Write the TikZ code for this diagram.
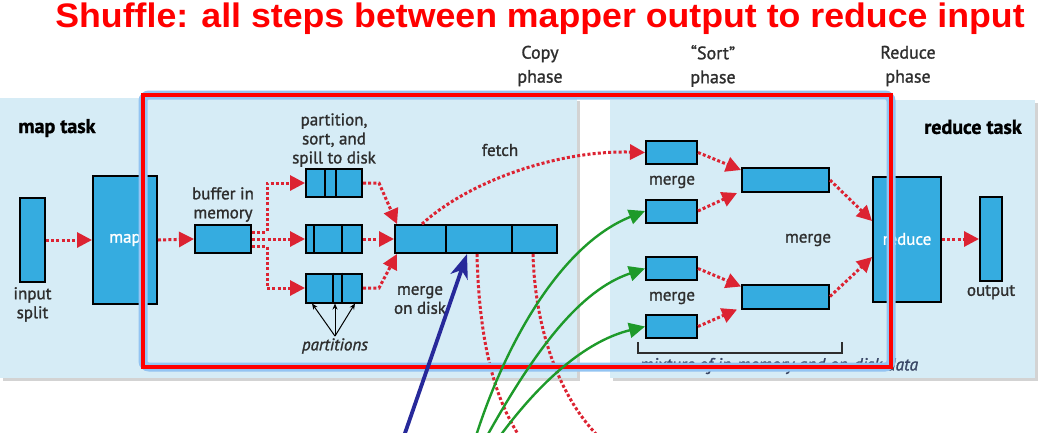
\documentclass[tikz,border=0pt]{standalone}
\usepackage{fontspec}
\setmainfont{PT Sans}[FakeBold=1.3]
\newfontfamily\headfont{Liberation Sans}
\usetikzlibrary{arrows.meta,positioning,shadows}
\definecolor{panelblue}{HTML}{D6ECF6}
\definecolor{boxblue}{HTML}{35ACE0}
\definecolor{dotred}{HTML}{DC2332}
\definecolor{frameblue}{HTML}{93C4F2}
\definecolor{arrgreen}{HTML}{1E9A2A}
\definecolor{arrnavy}{HTML}{27299A}
\definecolor{txtgray}{HTML}{2E2E2E}
\definecolor{mixgray}{HTML}{3A4766}

\begin{document}
\begin{tikzpicture}[x=1pt,y=-1pt,
  panel/.style={fill=panelblue,drop shadow={opacity=0.35,shadow xshift=3pt,shadow yshift=-3pt}},
  blk/.style={draw=black,fill=boxblue,line width=2pt,inner sep=0pt,text=white,font=\fontsize{17}{19}\selectfont},
  lbl/.style={text=txtgray,font=\fontsize{17}{19}\selectfont,align=center,inner sep=1pt},
  phase/.style={text=txtgray,font=\fontsize{18}{24}\selectfont,align=center,inner sep=1pt},
  task/.style={text=black,font=\fontsize{20}{24}\selectfont\bfseries,inner sep=1pt},
  divl/.style={black,line width=2pt},
  dotarr/.style={dotred,line width=3pt,dash pattern=on 3pt off 2.2pt,-{Triangle[length=15pt,width=15pt]}},
  dotcurve/.style={dotred,line width=3pt,dash pattern=on 3pt off 2.2pt},
  tinyarr/.style={black,line width=1pt,-{Stealth[length=6pt,width=5pt]}},
  greenarr/.style={arrgreen,line width=2.4pt,-{Triangle[length=16pt,width=15pt]}},
  navyarr/.style={arrnavy,line width=3.8pt,-{Stealth[length=24pt,width=18pt,inset=7pt]}}]
  \useasboundingbox (0,0) rectangle (1054,432);
  \clip (0,0) rectangle (1054,432);
  \path[panel] (0,98) rectangle (577,378);
  \path[panel] (610,100) rectangle (1035,378);

  \node[text=red,font=\headfont\bfseries\fontsize{34}{40}\selectfont,xscale=1.05,anchor=base,inner sep=0pt] (ttl) at (540,27) {Shuffle: all steps between mapper output to reduce input};
  \node[phase] (copyph) at (540,66) {Copy\\phase};
  \node[phase] (sortph) at (713,66) {“Sort”\\phase};
  \node[phase] (redph) at (908,66) {Reduce\\phase};

  \node[task] (maptask) at (57,128) {map task};
  \node[task] (redtask) at (973,127) {reduce task};

  \node[blk,minimum width=25,minimum height=84] (inp) at (32.5,240) {};
  \node[lbl,below=3pt of inp] (inplbl) {input\\split};
  \node[blk,minimum width=64,minimum height=128] (map) at (125,240) {map};
  \node[blk,minimum width=56,minimum height=28] (buf) at (223,239) {};
  \node[lbl,above=1pt of buf] (buflbl) {buffer in\\memory};
  \node[blk,minimum width=56,minimum height=28] (sp1) at (334,183) {};
  \node[blk,minimum width=56,minimum height=28] (sp2) at (334,239) {};
  \node[blk,minimum width=56,minimum height=29] (sp3) at (334,288) {};
  \node[lbl,above=0pt of sp1] (splbl) {partition,\\sort, and\\spill to disk};
  \node[lbl,font=\fontsize{17}{19}\selectfont\itshape] (prt) at (335,346) {partitions};
  \node[blk,minimum width=162,minimum height=28] (dsk) at (476,239) {};
  \node[lbl] (dsklbl) at (420,300) {merge\\on disk};
  \node[lbl] (fetch) at (500,150) {fetch};

  \node[blk,minimum width=51,minimum height=23] (m1) at (671.5,152.5) {};
  \node[blk,minimum width=51,minimum height=23] (m2) at (671.5,211) {};
  \node[blk,minimum width=51,minimum height=23] (m3) at (671.5,268.5) {};
  \node[blk,minimum width=51,minimum height=23] (m4) at (671.5,326.5) {};
  \node[lbl] (mlbl1) at (672,182) {merge};
  \node[lbl] (mlbl2) at (672,298) {merge};
  \node[blk,minimum width=87,minimum height=24] (mm1) at (785.5,180) {};
  \node[blk,minimum width=87,minimum height=24] (mm2) at (785.5,296.5) {};
  \node[lbl] (mlbl3) at (808,240) {merge};
  \node[blk,minimum width=68,minimum height=125] (rdc) at (907,239) {reduce};
  \node[blk,minimum width=22,minimum height=84] (out) at (991,239) {};
  \node[lbl,below=2pt of out] (outlbl) {output};

  \draw[divl] ([xshift=20pt]sp1.north west) -- ([xshift=20pt]sp1.south west);
  \draw[divl] ([xshift=31pt]sp1.north west) -- ([xshift=31pt]sp1.south west);
  \draw[divl] ([xshift=9pt]sp2.north west) -- ([xshift=9pt]sp2.south west);
  \draw[divl] ([xshift=37pt]sp2.north west) -- ([xshift=37pt]sp2.south west);
  \draw[divl] ([xshift=28pt]sp3.north west) -- ([xshift=28pt]sp3.south west);
  \draw[divl] ([xshift=37pt]sp3.north west) -- ([xshift=37pt]sp3.south west);
  \draw[divl] ([xshift=52pt]dsk.north west) -- ([xshift=52pt]dsk.south west);
  \draw[divl] ([xshift=118pt]dsk.north west) -- ([xshift=118pt]dsk.south west);

  \draw[dotarr] (inp.east) -- (map.west);
  \draw[dotarr] (map.east) -- (buf.west);
  \draw[dotarr] ([yshift=7pt]buf.east) -- ++(15,0) |- (sp1.west);
  \draw[dotarr] (buf.east) -- (sp2.west);
  \draw[dotarr] ([yshift=-7pt]buf.east) -- ++(15,0) |- (sp3.west);
  \draw[dotarr] (sp1.east) -- ++(16,0) -- ([xshift=3pt]dsk.north west);
  \draw[dotarr] (sp2.east) -- (dsk.west);
  \draw[dotarr] (sp3.east) -- ++(16,0) -- ([xshift=3pt]dsk.south west);
  \draw[tinyarr] ([yshift=1pt]prt.north) -- ([xshift=7pt]sp3.south west);
  \draw[tinyarr] ([yshift=1pt]prt.north) -- ([xshift=1pt]sp3.south);
  \draw[tinyarr] ([yshift=1pt]prt.north) -- ([xshift=-8pt]sp3.south east);
  \draw[dotarr] ([xshift=28pt]dsk.north west) .. controls (470,180) and (560,150) .. (m1.west);
  \draw[dotarr] (m1.east) -- ([yshift=-3pt]mm1.north west);
  \draw[dotarr] (m2.east) -- ([xshift=-4pt]mm1.south west);
  \draw[dotarr] (m3.east) -- ([yshift=-3pt]mm2.north west);
  \draw[dotarr] (m4.east) -- ([xshift=-4pt]mm2.south west);
  \draw[dotarr] (mm1.east) -- ([yshift=18pt]rdc.west);
  \draw[dotarr] (mm2.east) -- ([yshift=-18pt]rdc.west);
  \draw[dotarr] (rdc.east) -- (out.west);

  \coordinate (dn1) at (522,440);
  \coordinate (dn2) at (602,440);
  \draw[dotcurve] ([xshift=1pt]dsk.south) .. controls (479,340) and (494,400) .. (dn1);
  \draw[dotcurve] ([xshift=57pt]dsk.south) .. controls (535,330) and (560,400) .. (dn2);

  \draw[txtgray,line width=1.3pt] (638,342) -- (638,353) -- (842,353) -- (842,342);
  \node[lbl,font=\fontsize{17.5}{19}\selectfont\itshape,text=mixgray] (mix) at (779,366) {mixture of in-memory and on-disk data};

  \draw[frameblue,line width=9pt,rounded corners=6pt] (143,95) rectangle (891,367);
  \draw[red,line width=4.5pt] (143,95) rectangle (891,367);

  \coordinate (g1) at (476,436);
  \coordinate (g2) at (487,436);
  \coordinate (g3) at (500,436);
  \coordinate (nv) at (404,436);
  \draw[greenarr] (g1) .. controls (505,345) and (560,245) .. (m2.west);
  \draw[greenarr] (g2) .. controls (535,350) and (580,290) .. (m3.west);
  \draw[greenarr] (g3) .. controls (545,375) and (590,340) .. (m4.west);
  \draw[navyarr] (nv) -- ([xshift=-9pt]dsk.south);
\end{tikzpicture}
\end{document}
